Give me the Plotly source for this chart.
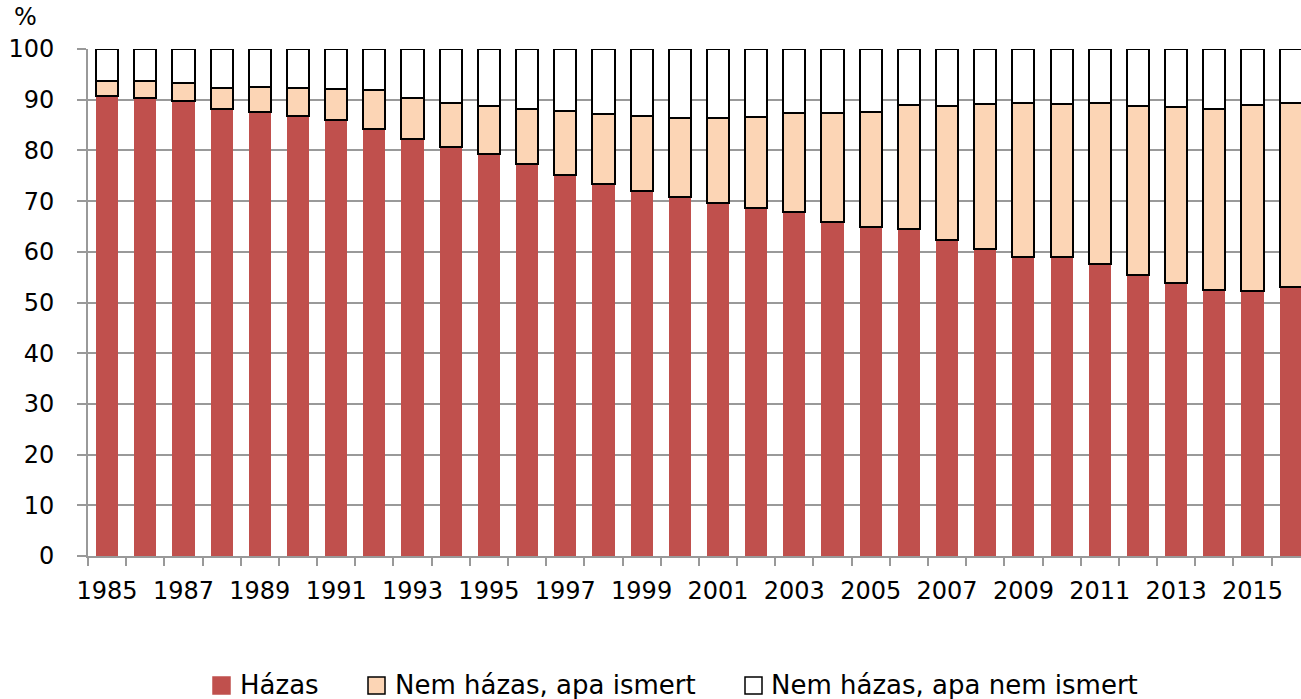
import plotly.graph_objects as go

years = list(range(1985, 2017))
# cumulative readings (top of red bar, top of peach bar)
hazas = [90.8, 90.4, 89.7, 88.1, 87.5, 86.8, 85.9, 84.3, 82.2, 80.6,
         79.3, 77.4, 75.1, 73.4, 71.9, 70.9, 69.7, 68.6, 67.8, 65.9,
         64.9, 64.4, 62.4, 60.5, 59.0, 59.0, 57.6, 55.5, 53.8, 52.4,
         52.2, 53.0]
peach_top = [93.6, 93.6, 93.2, 92.3, 92.6, 92.3, 92.1, 91.9, 90.3, 89.3,
             88.8, 88.2, 87.8, 87.1, 86.7, 86.4, 86.3, 86.6, 87.3, 87.3,
             87.6, 89.0, 88.8, 89.1, 89.4, 89.2, 89.4, 88.8, 88.6, 88.2,
             89.0, 89.4]
apa_ismert = [round(p - h, 1) for p, h in zip(peach_top, hazas)]
apa_nem_ismert = [round(100 - p, 1) for p in peach_top]

names = ["Házas", "Nem házas, apa ismert", "Nem házas, apa nem ismert"]
colors = ["#C0504D", "#FCD5B5", "#FFFFFF"]
label_years = [y for y in years if y % 2 == 1]

FONT = "DejaVu Sans"
FS = 24
LFS = 26
GRID = "#999999"

W, H = 1301, 699
ML, MT, MB, MR = 88, 49, 143, 0
PW, PH = W - ML - MR, H - MT - MB

fig = go.Figure()
series = [hazas, apa_ismert, apa_nem_ismert]
for i, (nm, vals, col) in enumerate(zip(names, series, colors)):
    line = dict(width=0) if i == 0 else dict(color="black", width=2)
    fig.add_trace(go.Bar(x=years, y=vals, name=nm, marker=dict(color=col, line=line)))

fig.update_layout(
    barmode="stack",
    bargap=0.42,
    width=W, height=H,
    margin=dict(l=ML, r=MR, t=MT, b=MB),
    paper_bgcolor="white", plot_bgcolor="white",
    font=dict(family=FONT, size=FS, color="black"),
    showlegend=False,
)
fig.update_xaxes(
    range=[1984.5, 1984.5 + PW / 38.18],
    tickmode="array", tickvals=label_years, ticktext=[str(y) for y in label_years],
    ticks="", showgrid=False, zeroline=False,
    showline=True, linecolor=GRID, linewidth=2,
    ticklabelstandoff=12,
    minor=dict(ticks="outside", tickvals=[y - 0.5 for y in years] + [years[-1] + 0.5],
               ticklen=8, tickcolor=GRID, tickwidth=2, showgrid=False),
)
fig.update_yaxes(
    range=[0, 100], tickvals=list(range(0, 101, 10)),
    showgrid=True, gridcolor=GRID, gridwidth=2,
    showline=True, linecolor=GRID, linewidth=2,
    ticks="outside", ticklen=9, tickcolor=GRID, tickwidth=2,
    ticklabelstandoff=18, zeroline=False,
)

def px_x(X):
    return (X - ML) / PW

def px_y(Y):
    return (H - MB - Y) / PH

fig.add_annotation(text="%", xref="paper", yref="paper", x=px_x(25), y=px_y(17),
                   xanchor="center", yanchor="middle", showarrow=False,
                   font=dict(family=FONT, size=FS))

# manual legend
leg_sq_x = [213, 368, 745]
leg_txt_x = [238, 393, 769]
for nm, col, sx, tx in zip(names, colors, leg_sq_x, leg_txt_x):
    fig.add_shape(type="rect", xref="paper", yref="paper",
                  x0=px_x(sx), x1=px_x(sx + 17), y0=px_y(694), y1=px_y(677),
                  fillcolor=col,
                  line=dict(color="black" if col != colors[0] else col, width=1.5))
    fig.add_annotation(text=nm, xref="paper", yref="paper", x=px_x(tx), y=px_y(685),
                       xanchor="left", yanchor="middle", showarrow=False,
                       font=dict(family=FONT, size=LFS))

fig.write_html("out.html", config={"displayModeBar": False},
               post_script="document.body.style.margin='0px';")
